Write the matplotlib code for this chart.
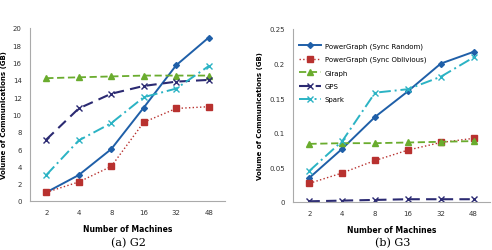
import matplotlib
matplotlib.use("Agg")
import matplotlib.pyplot as plt

machines = ["2", "4", "8", "16", "32", "48"]

# G2 volumes (GB)
g2_sync_random = [1.0, 3.0, 6.0, 10.8, 15.7, 18.9]
g2_sync_oblivious = [1.0, 2.2, 4.0, 9.1, 10.7, 10.9]
g2_giraph = [14.2, 14.3, 14.4, 14.5, 14.5, 14.5]
g2_gps = [7.1, 10.7, 12.4, 13.3, 13.8, 14.0]
g2_spark = [3.0, 7.0, 9.0, 12.0, 13.0, 15.6]

# G3 volumes (GB)
g3_sync_random = [0.035, 0.077, 0.123, 0.160, 0.200, 0.217]
g3_sync_oblivious = [0.027, 0.042, 0.060, 0.075, 0.086, 0.092]
g3_giraph = [0.084, 0.085, 0.085, 0.086, 0.087, 0.088]
g3_gps = [0.001, 0.002, 0.003, 0.004, 0.004, 0.004]
g3_spark = [0.045, 0.088, 0.158, 0.163, 0.181, 0.209]

names = ["PowerGraph (Sync Random)", "PowerGraph (Sync Oblivious)",
         "Giraph", "GPS", "Spark"]
styles = [
    dict(color="#1f5fa8", ls="-", marker="D", ms=3, lw=1.4),
    dict(color="#b8312f", ls=":", marker="s", ms=4.5, lw=1.0),
    dict(color="#6aac2e", ls=(0, (4, 2)), marker="^", ms=4, lw=1.3),
    dict(color="#2b2a72", ls=(0, (5, 3)), marker="x", ms=4, lw=1.5),
    dict(color="#2bb3c4", ls=(0, (6, 2, 1, 2)), marker="x", ms=4, lw=1.4),
]

fig = plt.figure(figsize=(4.92, 2.51), dpi=100)
ax1 = fig.add_axes([30 / 492, 49 / 251, 195 / 492, 173 / 251])
ax2 = fig.add_axes([293 / 492, 48 / 251, 197 / 492, 173 / 251])

x = list(range(len(machines)))
g2 = [g2_sync_random, g2_sync_oblivious, g2_giraph, g2_gps, g2_spark]
g3 = [g3_sync_random, g3_sync_oblivious, g3_giraph, g3_gps, g3_spark]

for ax, data in [(ax1, g2), (ax2, g3)]:
    for name, ys, st in zip(names, data, styles):
        ax.plot(x, ys, label=name, **st)
    ax.set_xticks(x)
    ax.set_xticklabels(machines)
    ax.set_xlim(-0.5, 5.5)
    ax.spines["top"].set_visible(False)
    ax.spines["right"].set_visible(False)
    ax.spines["left"].set_color("#aaaaaa")
    ax.spines["bottom"].set_color("#aaaaaa")
    ax.tick_params(labelsize=5, length=0, pad=6, colors="#333333")
    ax.set_xlabel("Number of Machines", fontsize=5.5, fontweight="bold", labelpad=6)
    ax.set_ylabel("Volume of Communications (GB)", fontsize=5, fontweight="bold", labelpad=4)

ax1.set_ylim(0, 20)
ax1.set_yticks(range(0, 21, 2))
ax2.set_ylim(0, 0.25)
ax2.set_yticks([0, 0.05, 0.1, 0.15, 0.2, 0.25])
ax2.set_yticklabels(["0", "0.05", "0.1", "0.15", "0.2", "0.25"])

ax2.legend(loc="upper left", bbox_to_anchor=(0.0, 0.96), fontsize=5, frameon=False,
           handlelength=3.2, handletextpad=0.5, labelspacing=1.05)

fig.text(128 / 492, 8 / 251, "(a) G2", ha="center", va="center", fontsize=8, family="DejaVu Serif")
fig.text(393 / 492, 8 / 251, "(b) G3", ha="center", va="center", fontsize=8, family="DejaVu Serif")

fig.savefig("out.png", dpi=100)
